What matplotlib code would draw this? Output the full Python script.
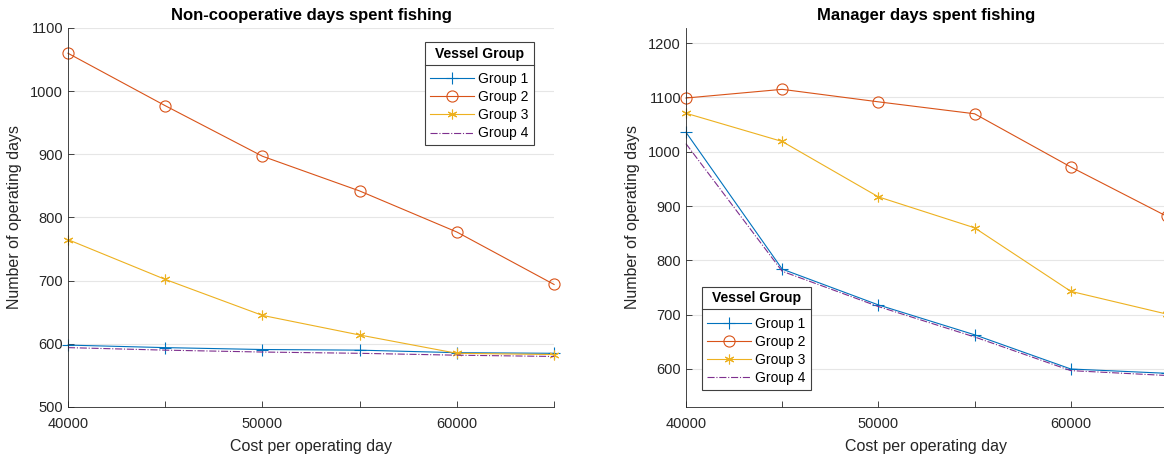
import matplotlib.pyplot as plt
from matplotlib.lines import Line2D

plt.rcParams['font.family'] = ['Liberation Sans', 'DejaVu Sans']

cost = [40000, 45000, 50000, 55000, 60000, 65000]
groups = ["Group 1", "Group 2", "Group 3", "Group 4"]

# non-cooperative days
noncoop = [
    [598, 594, 591, 590, 586, 585],
    [1060, 977, 897, 842, 777, 694],
    [765, 702, 645, 614, 585, 583],
    [594, 590, 587, 585, 582, 580],
]
# manager days
manager = [
    [1036, 784, 718, 663, 600, 592],
    [1099, 1115, 1092, 1070, 972, 881],
    [1071, 1019, 917, 860, 743, 701],
    [1015, 780, 715, 659, 597, 588],
]

colors = ["#0072BD", "#D95319", "#EDB120", "#7E2F8E"]
styles = [dict(marker="+", ls="-", ms=8),
          dict(marker="o", ls="-", ms=8, mfc="none"),
          dict(marker=(6, 2, 0), ls="-", ms=7),
          dict(marker=None, ls="-.")]

fig = plt.figure(figsize=(11.64, 4.55), dpi=100)
ax1 = fig.add_axes([0.0584, 0.1055, 0.4176, 0.833])
ax2 = fig.add_axes([0.5893, 0.1055, 0.4133, 0.833])

def style_ax(ax, title, ylim, yticks):
    ax.set_xlim(40000, 65000)
    ax.set_ylim(*ylim)
    ax.set_yticks(yticks)
    ax.set_xticks(cost)
    ax.set_xticklabels(["40000", "", "50000", "", "60000", ""])
    ax.tick_params(direction="in", length=4, labelsize=10.5, colors="#262626", width=0.6)
    ax.tick_params(axis="x", pad=7)
    ax.yaxis.grid(True, color="#e6e6e6", lw=0.8)
    ax.set_axisbelow(True)
    for s in ["top", "right"]:
        ax.spines[s].set_visible(False)
    for s in ["left", "bottom"]:
        ax.spines[s].set_color("#262626")
        ax.spines[s].set_linewidth(0.6)
    ax.set_title(title, fontsize=12, fontweight="bold", pad=6)
    ax.set_xlabel("Cost per operating day", fontsize=11.5, color="#262626", labelpad=6)
    ax.set_ylabel("Number of operating days", fontsize=11.5, color="#262626", labelpad=6)

for ax, data in [(ax1, noncoop), (ax2, manager)]:
    for i in range(4):
        ax.plot(cost, data[i], color=colors[i], lw=0.8, mew=0.8,
                label=groups[i], clip_on=False, **styles[i])

style_ax(ax1, "Non-cooperative days spent fishing", (500, 1100),
         [500, 600, 700, 800, 900, 1000, 1100])
style_ax(ax2, "Manager days spent fishing", (530, 1228),
         [600, 700, 800, 900, 1000, 1100, 1200])

legs = []
for ax, loc, anchor in [(ax1, "upper right", (0.958, 0.963)),
                        (ax2, "lower left", (0.033, 0.045))]:
    leg = ax.legend(loc=loc, bbox_to_anchor=anchor, title="Vessel Group",
                    fontsize=10, title_fontproperties={"weight": "bold", "size": 10},
                    fancybox=False, edgecolor="#404040", framealpha=1,
                    borderpad=0.35, labelspacing=0.3, handlelength=3.2,
                    handletextpad=0.3, borderaxespad=0)
    leg.get_frame().set_linewidth(0.8)
    leg._legend_box.sep = 8
    legs.append(leg)

# separator line under legend title
fig.canvas.draw()
r = fig.canvas.get_renderer()
for leg in legs:
    fb = leg.get_frame().get_window_extent(r)
    tb = leg.get_title().get_window_extent(r)
    yline = tb.y0 - 4
    fig.add_artist(Line2D([fb.x0 / fig.bbox.width, fb.x1 / fig.bbox.width],
                          [yline / fig.bbox.height, yline / fig.bbox.height],
                          color="#404040", lw=0.8))

fig.savefig("out.png", dpi=100)
